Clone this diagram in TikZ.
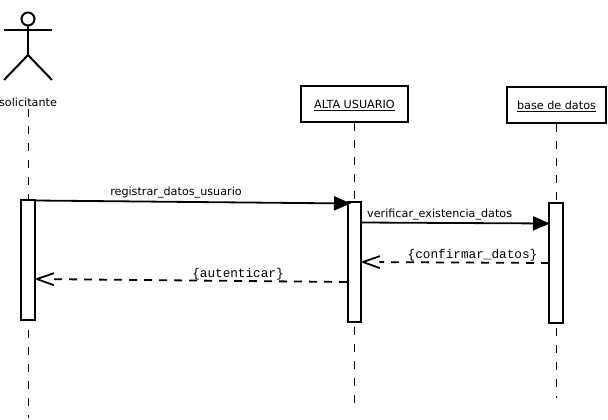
\documentclass[tikz,border=0pt]{standalone}
\usepackage{fontspec}
\setmainfont{DejaVu Sans}
\newfontfamily\msgmono{Liberation Mono}
\usetikzlibrary{arrows.meta}
\pgfdeclarearrow{
  name = OpenVee,
  setup code = {%
    \pgfarrowssettipend{0.9pt}%
    \pgfarrowssetlineend{-16.5pt}%
    \pgfarrowssetvisualtipend{0.9pt}%
    \pgfarrowssetbackend{-17pt}%
    \pgfarrowssetvisualbackend{-17pt}%
  },
  drawing code = {%
    \pgfsetdash{}{0pt}%
    \pgfsetlinewidth{1.8pt}%
    \pgfsetroundjoin
    \pgfpathmoveto{\pgfpoint{-17pt}{6pt}}%
    \pgfpathlineto{\pgfpointorigin}%
    \pgfpathlineto{\pgfpoint{-17pt}{-6pt}}%
    \pgfusepathqstroke
  },
}
\tikzset{
  objbox/.style={draw=black,line width=2pt,fill=white,anchor=north west,inner sep=0pt},
  actbar/.style={draw=black,line width=1.8pt,fill=white,anchor=north west,inner sep=0pt,minimum width=14pt},
  lifeline/.style={draw=black,line width=1pt,dash pattern=on 8pt off 9pt},
  limb/.style={draw=black,line width=2pt},
  syncmsg/.style={draw=black,line width=1.8pt,-{Triangle[length=17pt,width=14pt]}},
  replymsg/.style={draw=black,line width=1.8pt,dash pattern=on 8pt off 7pt,-{OpenVee}},
  sanslabel/.style={font=\fontsize{11.2}{13}\selectfont,inner sep=0pt},
  monolabel/.style={font=\fontsize{12.7}{14}\msgmono,inner sep=0pt},
}
\begin{document}
\begin{tikzpicture}[x=1pt,y=-1pt]
\useasboundingbox[fill=white] (0,0) rectangle (608,420);
% actor
\node[draw=black,line width=2pt,circle,minimum size=13pt,inner sep=0pt,fill=white] (head) at (28,19) {};
\coordinate (armL) at (4,30.5);
\coordinate (armR) at (52,30.5);
\coordinate (hip) at (28,55);
\coordinate (footL) at (4,80);
\coordinate (footR) at (52,80);
\draw[limb] (armL) -- (armR);
\draw[limb] (head.south) -- (hip);
\draw[limb] (footL) -- (hip) -- (footR);
\node[sanslabel] (solicitante) at (28,102) {solicitante};
% objects
\node[objbox,minimum width=107pt,minimum height=36pt,text depth=-1.5pt] (alta) at (300,85) {\fontsize{11.2}{13}\selectfont\underline{ALTA USUARIO}};
\node[objbox,minimum width=99pt,minimum height=36pt,text depth=-1.5pt] (base) at (506,86) {\fontsize{11.2}{13}\selectfont\underline{base de datos}};
% lifeline ends
\coordinate (endA) at (28,418);
\coordinate (endB) at (354.5,408);
\coordinate (endC) at (556,398);
\coordinate (startA) at (28,109);
\draw[lifeline] (startA) -- (endA);
\draw[lifeline] (alta.south -| endB) -- (endB);
\draw[lifeline] (base.south -| endC) -- (endC);
% activations
\node[actbar,minimum height=120pt] (actA) at (20,199) {};
\node[actbar,minimum width=13pt,minimum height=120pt] (actB) at (347,201) {};
\node[actbar,minimum height=120pt] (actC) at (548,202) {};
% messages
\coordinate (m2s) at (361,222.5);
\coordinate (m2e) at (550,223.5);
\coordinate (m3s) at (549,263);
\coordinate (m3e) at (362,262);
\coordinate (m4s) at (347,282);
\coordinate (m4e) at (36,279);
\coordinate (m1s) at (35,200.5);
\coordinate (m1e) at (351,203.5);
\draw[syncmsg] (m1s) -- (m1e);
\draw[syncmsg] (m2s) -- (m2e);
\draw[replymsg] (m3s) -- (m3e);
\draw[replymsg] (m4s) -- (m4e);
% labels
\node[sanslabel] (l1) at (176,192.5) {registrar\_datos\_usuario};
\node[sanslabel,anchor=west] (l2) at (367,215) {verificar\_existencia\_datos};
\node[monolabel] (l3) at (472.5,255) {\{confirmar\_datos\}};
\node[monolabel] (l4) at (238,274) {\{autenticar\}};
\end{tikzpicture}
\end{document}
